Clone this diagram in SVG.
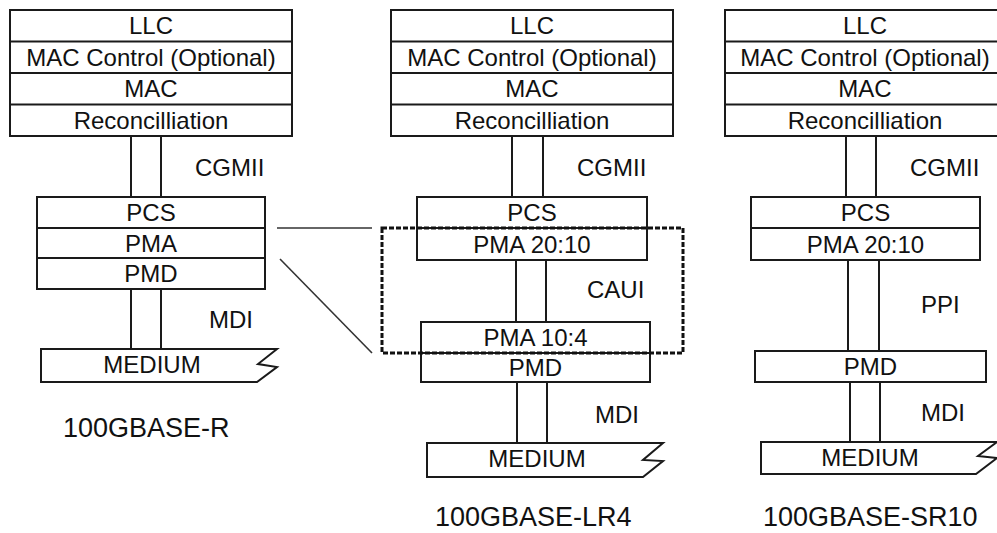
<svg xmlns="http://www.w3.org/2000/svg" width="997" height="533" viewBox="0 0 997 533">
<style>
.b{fill:#fff;stroke:#1a1a1a;stroke-width:2}
.l{stroke:#1a1a1a;stroke-width:2;fill:none}
.t{font-family:"Liberation Sans",Arial,sans-serif;font-size:24px;fill:#111;text-anchor:middle}
.s{font-family:"Liberation Sans",Arial,sans-serif;font-size:24px;fill:#111}
.n{font-family:"Liberation Sans",Arial,sans-serif;font-size:27px;fill:#111}
.c{stroke:#333;stroke-width:1.6;fill:none}
.d{stroke:#111;stroke-width:3;fill:none;stroke-dasharray:5 2}
</style>
<rect width="997" height="533" fill="#fff"/>

<!-- connectors -->
<g id="connectors">
  <line class="l" x1="131" y1="136" x2="131" y2="197"/>
  <line class="l" x1="161" y1="136" x2="161" y2="197"/>
  <line class="l" x1="131" y1="289" x2="131" y2="349"/>
  <line class="l" x1="161" y1="289" x2="161" y2="349"/>
  <line class="l" x1="512" y1="136" x2="512" y2="197"/>
  <line class="l" x1="543" y1="136" x2="543" y2="197"/>
  <line class="l" x1="516" y1="260" x2="516" y2="322"/>
  <line class="l" x1="546" y1="260" x2="546" y2="322"/>
  <line class="l" x1="517" y1="382" x2="517" y2="443"/>
  <line class="l" x1="547" y1="382" x2="547" y2="443"/>
  <line class="l" x1="846" y1="136" x2="846" y2="197"/>
  <line class="l" x1="876" y1="136" x2="876" y2="197"/>
  <line class="l" x1="848" y1="260" x2="848" y2="351"/>
  <line class="l" x1="879" y1="260" x2="879" y2="351"/>
  <line class="l" x1="850" y1="382" x2="850" y2="442"/>
  <line class="l" x1="880" y1="382" x2="880" y2="442"/>
  <line class="c" x1="277" y1="228" x2="372" y2="228"/>
  <line class="c" x1="280" y1="259" x2="372" y2="353"/>
</g>

<!-- left column -->
<g id="left-upper">
  <rect class="b" x="10" y="10" width="282" height="126"/>
  <line class="l" x1="10" y1="41.5" x2="292" y2="41.5"/>
  <line class="l" x1="10" y1="73" x2="292" y2="73"/>
  <line class="l" x1="10" y1="104.5" x2="292" y2="104.5"/>
  <text class="t" x="151" y="34">LLC</text>
  <text class="t" x="151" y="65.5">MAC Control (Optional)</text>
  <text class="t" x="151" y="97">MAC</text>
  <text class="t" x="151" y="128.5">Reconcilliation</text>
</g>
<text class="s" x="195" y="176">CGMII</text>
<g id="left-phy">
  <rect class="b" x="37" y="197" width="228" height="92"/>
  <line class="l" x1="37" y1="228" x2="265" y2="228"/>
  <line class="l" x1="37" y1="258" x2="265" y2="258"/>
  <text class="t" x="151" y="221">PCS</text>
  <text class="t" x="151" y="251.5">PMA</text>
  <text class="t" x="151" y="282">PMD</text>
</g>
<text class="s" x="209" y="328">MDI</text>
<g id="left-medium">
  <path class="b" d="M41,349 H277 L258,364 L277,367 L257,382 H41 Z"/>
  <text class="t" x="152" y="373">MEDIUM</text>
</g>
<text class="n" x="63" y="437">100GBASE-R</text>

<!-- middle column -->
<g id="mid-upper">
  <rect class="b" x="391" y="10" width="282" height="126"/>
  <line class="l" x1="391" y1="41.5" x2="673" y2="41.5"/>
  <line class="l" x1="391" y1="73" x2="673" y2="73"/>
  <line class="l" x1="391" y1="104.5" x2="673" y2="104.5"/>
  <text class="t" x="532" y="34">LLC</text>
  <text class="t" x="532" y="65.5">MAC Control (Optional)</text>
  <text class="t" x="532" y="97">MAC</text>
  <text class="t" x="532" y="128.5">Reconcilliation</text>
</g>
<text class="s" x="577" y="176">CGMII</text>
<g id="mid-pcs">
  <rect class="b" x="417" y="197" width="230" height="63"/>
  <line class="l" x1="417" y1="228" x2="647" y2="228"/>
  <text class="t" x="532" y="221">PCS</text>
  <text class="t" x="532" y="252.5">PMA 20:10</text>
</g>
<text class="s" x="587" y="298">CAUI</text>
<g id="mid-pmd">
  <rect class="b" x="421" y="322" width="229" height="60"/>
  <line class="l" x1="421" y1="353" x2="650" y2="353"/>
  <text class="t" x="535.5" y="346">PMA 10:4</text>
  <text class="t" x="535.5" y="376">PMD</text>
</g>
<rect id="dashed-box" class="d" x="382" y="228" width="301" height="125"/>
<text class="s" x="595" y="423">MDI</text>
<g id="mid-medium">
  <path class="b" d="M427,443 H663 L643,460 L663,461 L643,477 H427 Z"/>
  <text class="t" x="537" y="467">MEDIUM</text>
</g>
<text class="n" x="435" y="526">100GBASE-LR4</text>

<!-- right column -->
<g id="right-upper">
  <rect class="b" x="725" y="10" width="282" height="126"/>
  <line class="l" x1="725" y1="41.5" x2="1007" y2="41.5"/>
  <line class="l" x1="725" y1="73" x2="1007" y2="73"/>
  <line class="l" x1="725" y1="104.5" x2="1007" y2="104.5"/>
  <text class="t" x="865" y="34">LLC</text>
  <text class="t" x="865" y="65.5">MAC Control (Optional)</text>
  <text class="t" x="865" y="97">MAC</text>
  <text class="t" x="865" y="128.5">Reconcilliation</text>
</g>
<text class="s" x="910" y="176">CGMII</text>
<g id="right-pcs">
  <rect class="b" x="751" y="197" width="229" height="63"/>
  <line class="l" x1="751" y1="228" x2="980" y2="228"/>
  <text class="t" x="865.5" y="221">PCS</text>
  <text class="t" x="865.5" y="252.5">PMA 20:10</text>
</g>
<text class="s" x="921" y="313">PPI</text>
<g id="right-pmd">
  <rect class="b" x="755" y="351" width="231" height="31"/>
  <text class="t" x="870.5" y="375">PMD</text>
</g>
<text class="s" x="921" y="421">MDI</text>
<g id="right-medium">
  <path class="b" d="M761,442 H997 L978,456 L997,458 L976,474 H761 Z"/>
  <text class="t" x="870" y="466">MEDIUM</text>
</g>
<text class="n" x="763" y="526">100GBASE-SR10</text>
</svg>
